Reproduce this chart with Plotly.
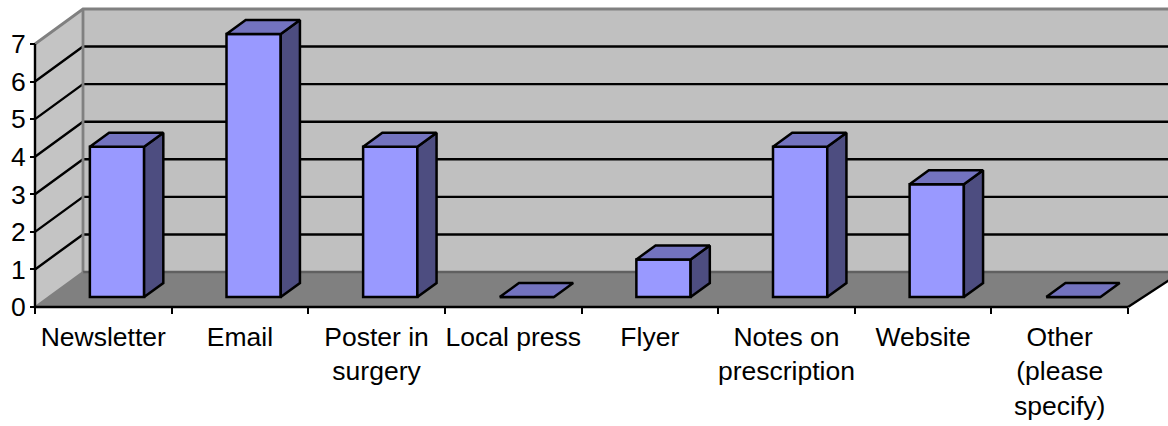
import plotly.graph_objects as go

categories = ["Newsletter", "Email", "Poster in<br>surgery", "Local press", "Flyer",
              "Notes on<br>prescription", "Website", "Other<br>(please<br>specify)"]
values = [4, 7, 4, 0, 1, 4, 3, 0]
y_ticks = [0, 1, 2, 3, 4, 5, 6, 7]

W, H = 1168, 426
L, R, B, T = 35, 1128, 307, 44          # front plane of the plot box
N = len(categories)
YMAX = max(y_ticks)
UX = (R - L) / N
UY = (B - T) / YMAX
DX = 48 / UX                            # oblique shift of the back plane, in axis units
DY = 35 / UY
D0, D1 = 0.285, 0.685                   # depth span of each bar
BAR_W = 0.397
XMIN, XMAX = -L / UX, (W - L) / UX
YMIN, YTOP = -(H - B) / UY, B / UY
X_END = XMAX + 0.1 - DX                 # walls run off the right edge of the page


def p(x, v, d):
    return x + d * DX, v + d * DY


def poly(pts, fill=None, line=None, lw=2.4, ax=("x", "y")):
    xs = [a for a, _ in pts]
    ys = [b for _, b in pts]
    return go.Scatter(
        x=xs, y=ys, mode="lines", xaxis=ax[0], yaxis=ax[1],
        fill="toself" if fill else None, fillcolor=fill,
        line=dict(color=line or fill, width=lw if line else 0, shape="linear"),
        showlegend=False, hoverinfo="skip",
    )


fig = go.Figure()
# walls and floor
fig.add_trace(poly([p(0, 0, 1), p(X_END, 0, 1), p(X_END, YMAX, 1), p(0, YMAX, 1)], fill="#C0C0C0"))
fig.add_trace(poly([p(0, 0, 0), p(0, 0, 1), p(0, YMAX, 1), p(0, YMAX, 0)], fill="#C4C4C4"))
fig.add_trace(poly([p(0, 0, 0), p(N, 0, 0), p(X_END, 0, 1), p(0, 0, 1)], fill="#808080"))
# gridlines
for v in y_ticks[1:-1]:
    fig.add_trace(poly([p(0, v, 0), p(0, v, 1), p(X_END, v, 1)], line="#000000"))
# wall edges
fig.add_trace(poly([p(0, YMAX, 0), p(0, YMAX, 1), p(X_END, YMAX, 1)], line="#808080", lw=2.8))
fig.add_trace(poly([p(0, YMAX, 1), p(0, 0, 1)], line="#808080", lw=2.8))
fig.add_trace(poly([p(0, 0, 1), p(X_END, 0, 1)], line="#606060", lw=2.5))
fig.add_trace(poly([p(0, 0, 0), p(0, 0, 1)], line="#808080", lw=2))
fig.add_trace(poly([p(X_END, 0, 1), p(N, 0, 0)], line="#000000"))
# axis lines
fig.add_trace(poly([(0, YMAX), (0, 0), (N, 0)], line="#000000"))

# bars: front faces
fig.add_trace(go.Bar(
    x=[i + 0.5 + D0 * DX for i in range(N)], y=values, base=D0 * DY, width=BAR_W,
    marker=dict(color="#9999FF", line=dict(color="#000000", width=2.5)),
    xaxis="x2", yaxis="y2", showlegend=False, hoverinfo="skip",
))
ax2 = ("x2", "y2")
for i, v in enumerate(values):
    a = i + 0.5 - BAR_W / 2
    b = i + 0.5 + BAR_W / 2
    if v > 0:
        fig.add_trace(poly([p(b, 0, D0), p(b, 0, D1), p(b, v, D1), p(b, v, D0), p(b, 0, D0)],
                           fill="#4D4D80", line="#000000", lw=2.5, ax=ax2))
    fig.add_trace(poly([p(a, v, D0), p(b, v, D0), p(b, v, D1), p(a, v, D1), p(a, v, D0)],
                       fill="#7373BF", line="#000000", lw=2.5, ax=ax2))

font = dict(family="Liberation Sans, Arial, sans-serif", size=26.5, color="#000000")
fig.update_layout(
    width=W, height=H, autosize=False, margin=dict(l=0, r=0, t=0, b=0, pad=0),
    paper_bgcolor="#FFFFFF", plot_bgcolor="rgba(0,0,0,0)", showlegend=False, font=font,
    barmode="overlay",
    xaxis=dict(domain=[0, 1], range=[XMIN, XMAX], anchor="free", position=(H - B) / H,
               automargin=False,
               tickmode="array", tickvals=[i + 0.5 for i in range(N)], ticktext=categories,
               ticks="outside", ticklen=0, tickfont=font, showgrid=False, zeroline=False,
               showline=False, ticklabelstandoff=6,
               minor=dict(tickmode="array", tickvals=list(range(N + 1)), ticks="outside",
                          ticklen=6, tickwidth=2, tickcolor="#000000", showgrid=False)),
    yaxis=dict(domain=[0, 1], range=[YMIN, YTOP], anchor="free", position=L / W,
               automargin=False,
               tickmode="array", tickvals=y_ticks, ticklabelstandoff=-1,
               ticktext=[str(t) for t in y_ticks], ticks="outside", ticklen=5, tickwidth=2,
               tickcolor="#000000", tickfont=font, showgrid=False, zeroline=False,
               showline=False),
    xaxis2=dict(domain=[0, 1], range=[XMIN, XMAX], overlaying="x", visible=False, automargin=False),
    yaxis2=dict(domain=[0, 1], range=[YMIN, YTOP], overlaying="y", visible=False, automargin=False),
)
fig.write_html("out.html", config={"displayModeBar": False},
               post_script="document.body.style.margin='0';")
